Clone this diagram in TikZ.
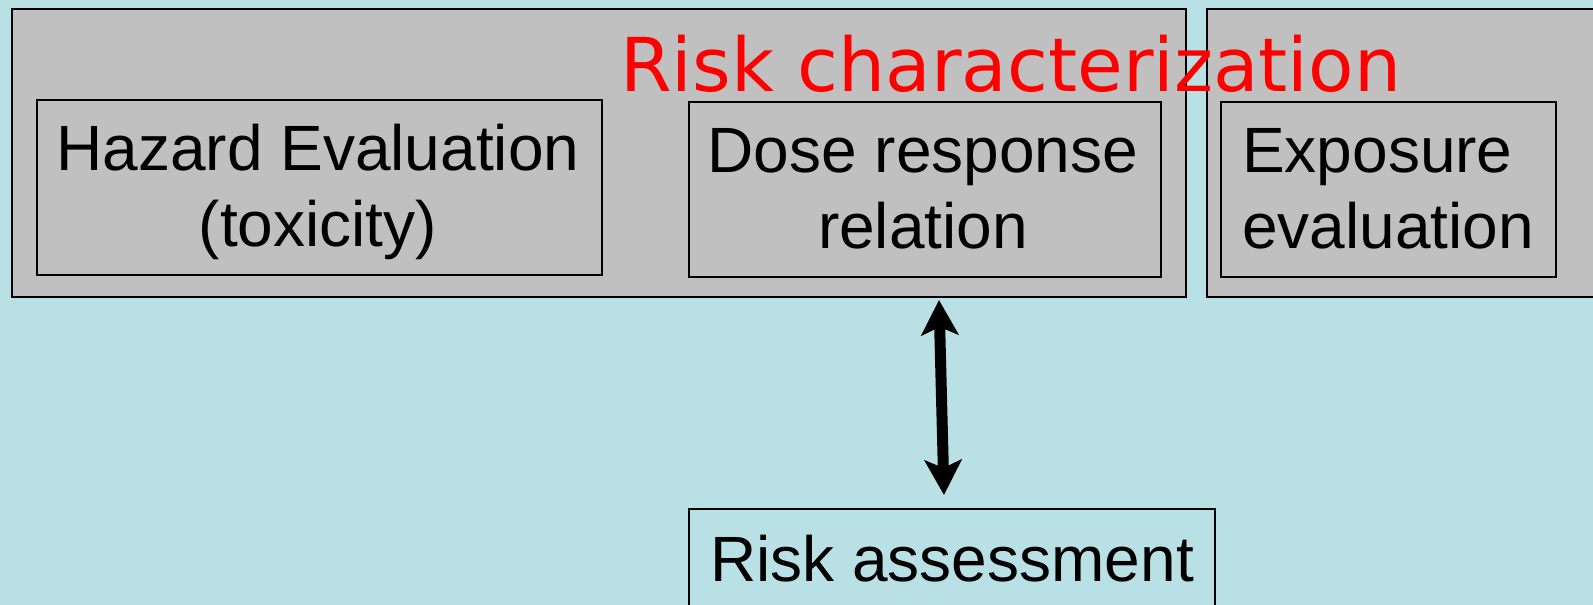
\documentclass[tikz,border=0pt]{standalone}
\usepackage{fontspec}
\setmainfont{Liberation Sans}
\newfontfamily\redfont{DejaVu Sans}
\usetikzlibrary{arrows.meta}
\definecolor{bgblue}{RGB}{185,224,228}
\definecolor{boxgray}{RGB}{192,192,192}
\begin{document}
\begin{tikzpicture}[x=1pt,y=-1pt,
  outerbox/.style={draw=black, line width=2pt, fill=boxgray, inner sep=0pt, anchor=north west},
  innerbox/.style={draw=black, line width=2pt, inner sep=0pt, anchor=north west},
  lbl/.style={font=\fontsize{64}{76}\selectfont, inner sep=0pt, text=black},
  title/.style={font=\redfont\fontsize{74.3}{90}\selectfont, inner sep=0pt, text=red, anchor=base west},
  biarrow/.style={line width=11pt, {Stealth[length=35pt,width=37pt,inset=8pt]}-{Stealth[length=35pt,width=37pt,inset=8pt]}}]
\fill[bgblue] (0,0) rectangle (1593,605);
\useasboundingbox (0,0) rectangle (1593,605);
\clip (0,0) rectangle (1593,605);
% outer boxes
\node[outerbox, minimum width=1174pt, minimum height=288pt] (charbox) at (11,8) {};
\node[outerbox, minimum width=420pt, minimum height=288pt] (expbox) at (1206,8) {};
% inner boxes
\node[innerbox, minimum width=565pt, minimum height=175pt] (hazard) at (36,99) {};
\node[innerbox, minimum width=472pt, minimum height=175pt] (dose) at (688,101) {};
\node[innerbox, minimum width=335pt, minimum height=175pt] (exposure) at (1220,101) {};
\node[innerbox, minimum width=526pt, minimum height=130pt] (risk) at (688,508) {};
% texts
\node[lbl, align=center] (hazardtxt) at (318,192) {Hazard Evaluation\\(toxicity)};
\node[lbl, align=center] (dosetxt) at (923,189) {Dose response\\relation};
\node[lbl, align=left, anchor=west] (exptxt) at (1242,188.5) {Exposure\\evaluation};
\node[lbl, anchor=base west] (risktxt) at (710,581.7) {Risk assessment};
\node[title] (titletxt) at (620,91.7) {Risk characterization};
% arrow
\coordinate (atop) at (939,300);
\coordinate (abot) at (944,495);
\draw[biarrow] (atop) -- (abot);
\end{tikzpicture}
\end{document}
